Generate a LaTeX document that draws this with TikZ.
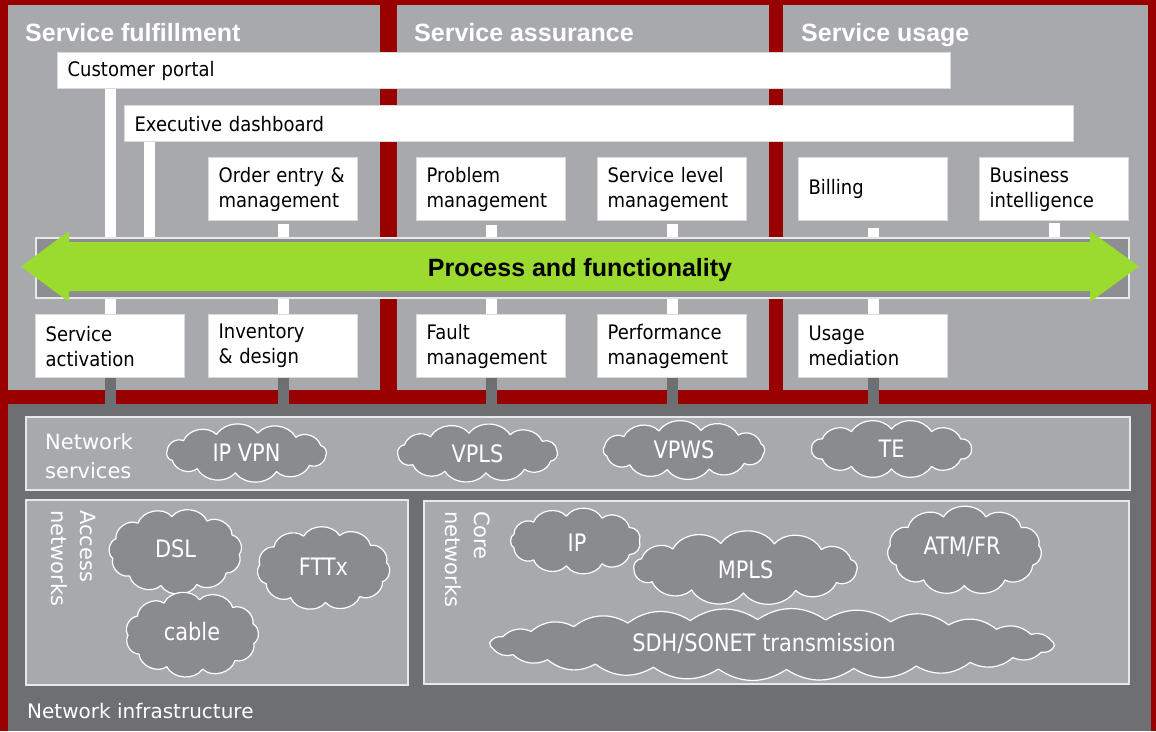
\documentclass[tikz,border=0pt]{standalone}
\usepackage{fontspec}
\setmainfont{DejaVu Sans}
\newfontfamily\bodyf{DejaVu Sans}[FakeStretch=0.9]
\newfontfamily\titlef{Liberation Sans}
\newfontfamily\cloudf{DejaVu Sans}[FakeStretch=0.87]
\definecolor{bgred}{RGB}{153,0,0}
\definecolor{panelgray}{RGB}{168,169,173}
\definecolor{darkgray}{RGB}{110,111,115}
\definecolor{arrowbox}{RGB}{141,142,146}
\definecolor{cloudgray}{RGB}{138,139,143}
\definecolor{limegreen}{RGB}{155,218,46}
\definecolor{boxline}{RGB}{218,218,218}
\definecolor{frameline}{RGB}{232,232,232}
\tikzset{
  panel/.style={fill=panelgray, draw=none, anchor=north west, inner sep=0pt},
  titletext/.style={anchor=base west, inner sep=0pt, text=white, font=\titlef\bfseries\fontsize{25}{30}\selectfont},
  wbox/.style={draw=boxline, line width=1.2pt, fill=white, anchor=north west, inner xsep=10pt, inner ysep=0pt, align=left, text=black, font=\bodyf\fontsize{20}{25}\selectfont},
  wbar/.style={draw=white, line width=11pt},
  gbar/.style={draw=darkgray, line width=11pt},
  netbox/.style={fill=panelgray, draw=frameline, line width=1.5pt, anchor=north west, inner sep=0pt},
  whitelabel/.style={inner sep=0pt, text=white, align=left, font=\fontsize{21}{29}\selectfont},
  cloudshape/.style={fill=cloudgray, draw=white, line width=1.2pt, line join=round},
  cloudtext/.style={inner sep=0pt, text=white, font=\cloudf\fontsize{24}{28}\selectfont},
}
% #1 cx, #2 cy, #3 a, #4 b, #5 puffs, #6 bend, #7 phase
\newcommand\drawcloud[7]{%
  \filldraw[cloudshape, shift={(#1,#2)}]
    ({#3*cos(#7)},{#4*sin(#7)})
    \foreach \k in {1,...,#5} { to[bend left=#6] ({#3*cos(#7+360*\k/#5)},{#4*sin(#7+360*\k/#5)}) } -- cycle;
}
\begin{document}
\begin{tikzpicture}[x=1pt, y=-1pt]
\useasboundingbox (0,0) rectangle (1156,731);
\fill[bgred] (0,0) rectangle (1156,731);

% top panels
\node[panel, minimum width=372, minimum height=385] (pful) at (8,5) {};
\node[panel, minimum width=372, minimum height=385] (pass) at (397,5) {};
\node[panel, minimum width=365, minimum height=385] (puse) at (783,5) {};
\node[titletext] (tful) at (25,41) {Service fulfillment};
\node[titletext] (tass) at (414,41) {Service assurance};
\node[titletext] (tuse) at (801,41) {Service usage};

% bottom panel
\node[panel, fill=darkgray, minimum width=1143, minimum height=327] (pnet) at (8,404) {};

% boxes
\node[wbox, text width=873, minimum height=36] (cp) at (57,52) {Customer portal};
\node[wbox, text width=929, minimum height=36] (ed) at (124,105) {Executive dashboard};

\node[wbox, text width=129, minimum height=63] (oe) at (208,157) {Order entry \&\\management};
\node[wbox, text width=129, minimum height=63] (pm) at (416,157) {Problem\\management};
\node[wbox, text width=129, minimum height=63] (sl) at (597,157) {Service level\\management};
\node[wbox, text width=129, minimum height=63] (bi) at (798,157) {Billing};
\node[wbox, text width=129, minimum height=63] (bint) at (979,157) {Business\\intelligence};

\node[wbox, text width=129, minimum height=63] (sa) at (35,314) {Service\\activation};
\node[wbox, text width=129, minimum height=63] (inv) at (208,314) {Inventory\\\& design};
\node[wbox, text width=129, minimum height=63] (fm) at (416,314) {Fault\\management};
\node[wbox, text width=129, minimum height=63] (perf) at (597,314) {Performance\\management};
\node[wbox, text width=129, minimum height=63] (um) at (798,314) {Usage\\mediation};

% arrow box (frame)
\node[anchor=north west, fill=arrowbox, draw=frameline, line width=1.5pt, minimum width=1093, minimum height=60, inner sep=0pt] (abox) at (35,237) {};

% green double arrow
\fill[limegreen] (21,266.5) -- (69,231) -- (69,242) -- (1090,242) -- (1090,231) -- (1139,266.5) -- (1090,302) -- (1090,291) -- (69,291) -- (69,302) -- cycle;
\node[inner sep=0pt, anchor=base, font=\titlef\bfseries\fontsize{25}{30}\selectfont] (pf) at (580,276) {Process and functionality};

% connector coordinates
\coordinate (edx) at (149,237);

% white bars above arrow box
\draw[wbar] (cp.south -| sa.north) -- (abox.north -| sa.north);
\draw[wbar] (ed.south -| edx) -- (edx);
\draw[wbar, shorten <=3pt] (oe.south) -- (abox.north -| oe.south);
\draw[wbar, shorten <=4pt] (pm.south) -- (abox.north -| pm.south);
\draw[wbar, shorten <=3pt] (sl.south) -- (abox.north -| sl.south);
\draw[wbar, shorten <=7pt] (bi.south) -- (abox.north -| bi.south);
\draw[wbar, shorten <=2pt] (bint.south) -- (abox.north -| bint.south);
% white bars below arrow box
\draw[wbar] (abox.south -| sa.north) -- (sa.north);
\draw[wbar] (abox.south -| inv.north) -- (inv.north);
\draw[wbar] (abox.south -| fm.north) -- (fm.north);
\draw[wbar] (abox.south -| perf.north) -- (perf.north);
\draw[wbar] (abox.south -| um.north) -- (um.north);

% gray bars to network infrastructure
\draw[gbar] (sa.south) -- (sa.south |- pnet.north);
\draw[gbar] (inv.south) -- (inv.south |- pnet.north);
\draw[gbar] (fm.south) -- (fm.south |- pnet.north);
\draw[gbar] (perf.south) -- (perf.south |- pnet.north);
\draw[gbar] (um.south) -- (um.south |- pnet.north);

% network boxes
\node[netbox, minimum width=1104, minimum height=73] (ns) at (25,416) {};
\node[netbox, minimum width=382, minimum height=185] (an) at (25,499) {};
\node[netbox, minimum width=705, minimum height=183] (cn) at (423,500) {};

\node[whitelabel, anchor=north west] (nsl) at (45,433) {Network\\services};
\node[whitelabel, anchor=north west, rotate=-90] (anl) at (96,510) {Access\\networks};
\node[whitelabel, anchor=north west, rotate=-90] (cnl) at (490,511) {Core\\networks};
\node[whitelabel, anchor=base west, font=\fontsize{20}{24}\selectfont] (nil) at (27,718) {Network infrastructure};

% clouds
\drawcloud{246.5}{453}{80}{20}{12}{55}{8}
\node[cloudtext] (ipvpn) at (246.5,453) {IP VPN};
\drawcloud{477.5}{453}{80}{20}{12}{55}{-6}
\node[cloudtext] (vpls) at (477.5,454) {VPLS};
\drawcloud{684}{450}{81}{20}{12}{55}{12}
\node[cloudtext] (vpws) at (684,450) {VPWS};
\drawcloud{891.5}{449}{80}{20}{12}{55}{0}
\node[cloudtext] (te) at (891.5,449) {TE};

\drawcloud{175.5}{551.5}{64}{35}{11}{60}{5}
\node[cloudtext] (dsl) at (175.5,549) {DSL};
\drawcloud{323.5}{568.5}{64}{34}{11}{60}{-10}
\node[cloudtext] (fttx) at (323.5,567) {FTTx};
\drawcloud{192}{634.5}{64}{35}{11}{60}{15}
\node[cloudtext] (cable) at (192,632) {cable};

\drawcloud{575.5}{541}{64}{25}{11}{60}{0}
\node[cloudtext] (ip) at (577,543) {IP};
\drawcloud{745.5}{568}{112}{25}{13}{55}{8}
\node[cloudtext] (mpls) at (745.5,570) {MPLS};
\drawcloud{964.5}{550.5}{75}{35}{11}{60}{-8}
\node[cloudtext] (atm) at (962,547) {ATM/FR};
\drawcloud{772}{644.5}{283}{25}{26}{34}{4}
\node[cloudtext] (sdh) at (764,643) {SDH/SONET transmission};
\end{tikzpicture}
\end{document}
